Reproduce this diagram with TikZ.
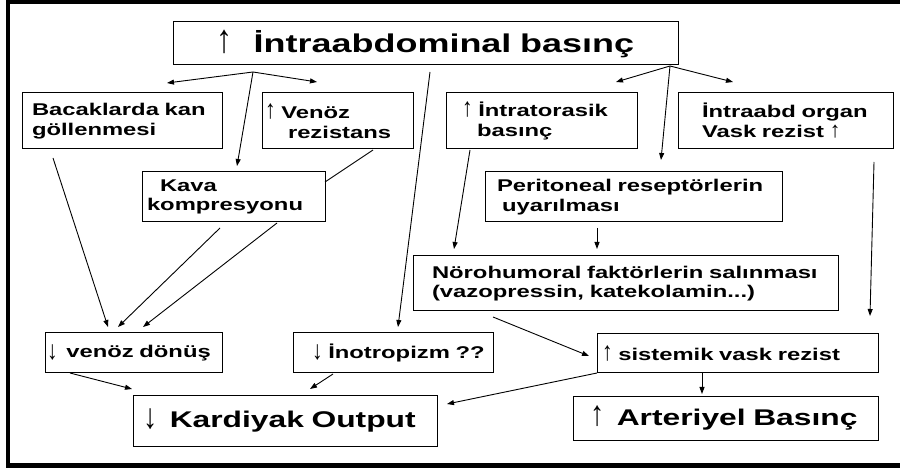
\documentclass[tikz,border=0pt]{standalone}
\usepackage{fontspec}
\usepackage{graphicx}
\setmainfont{Liberation Sans}[FakeStretch=1.4]
\newfontfamily\arrfont{Liberation Sans}
\usetikzlibrary{arrows.meta}
\newcommand\upar{{\arrfont\mdseries\scalebox{1.25}[1.55]{↑}}}
\newcommand\uparsm{{\arrfont\mdseries\scalebox{1.25}[1.3]{↑}}}
\newcommand\dnar{{\arrfont\mdseries\raisebox{-0.08em}{\scalebox{1.25}[1.55]{↓}}}}
\newcommand\tl[2]{\hspace*{#1pt}\mbox{#2}}
\begin{document}
\begin{tikzpicture}[x=1pt,y=-1pt,
  box/.style={draw=black, line width=1pt, rectangle, anchor=north west, inner sep=0pt, outer sep=0pt, align=left, font=\bfseries\fontsize{17}{19.5}\selectfont},
  big/.style={font=\bfseries\fontsize{22.7}{27}\selectfont},
  con/.style={line width=0.9pt, -{Triangle[length=7pt,width=5pt]}},
  link/.style={line width=0.9pt}]
\useasboundingbox (0,0) rectangle (900,470);
\draw[line width=4.5pt] (905,1.3) -- (8,1.3) -- (8,465.5) -- (905,465.5);

\node[box, minimum width=505pt, minimum height=43pt, text width=505pt, align=center, font=\bfseries\fontsize{25.7}{30}\selectfont] (top) at (173,22) {\upar\hspace{12pt} İntraabdominal basınç};
\node[box, minimum width=200pt, minimum height=56pt, text width=200pt] (bac) at (22,93) {\tl{10}{Bacaklarda kan}\\\tl{10}{göllenmesi}};
\node[box, minimum width=151pt, minimum height=56pt, text width=151pt] (ven) at (262,93) {\tl{3}{\upar\ Venöz}\\\tl{26}{rezistans}};
\node[box, minimum width=191pt, minimum height=56pt, text width=191pt] (ito) at (446,93) {\tl{16}{\upar\ İntratorasik}\\\tl{31}{basınç}};
\node[box, minimum width=215pt, minimum height=56pt, text width=215pt, font=\bfseries\fontsize{17}{20}\selectfont] (org) at (678,93) {\tl{24}{İntraabd organ}\\\tl{24}{Vask rezist \uparsm}};
\node[box, minimum width=183pt, minimum height=50pt, text width=183pt] (kava) at (142,172) {\tl{18}{Kava}\\\tl{5}{kompresyonu}};
\node[box, minimum width=297pt, minimum height=50pt, text width=297pt] (per) at (485,172) {\tl{12}{Peritoneal reseptörlerin}\\\tl{17}{uyarılması}};
\node[box, minimum width=425pt, minimum height=55pt, text width=425pt] (nor) at (413,256) {\tl{19}{Nörohumoral faktörlerin salınması}\\\tl{19}{(vazopressin, katekolamin...)}};
\node[box, minimum width=177pt, minimum height=40pt, text width=177pt] (vd) at (45,333) {\tl{2}{\dnar\hspace{3pt} venöz dönüş}};
\node[box, minimum width=200pt, minimum height=40pt, text width=200pt] (ino) at (293,333) {\tl{19}{\dnar\ İnotropizm ??}};
\node[box, minimum width=281pt, minimum height=39pt, text width=281pt] (sis) at (597,334) {\tl{5}{\upar\ sistemik vask rezist}};
\node[box, big, minimum width=304pt, minimum height=51pt, text width=304pt] (kar) at (133,395) {\tl{10}{\dnar\hspace{5pt} Kardiyak Output}};
\node[box, big, minimum width=305pt, minimum height=44pt, text width=305pt] (art) at (573,396) {\tl{17}{\upar\hspace{5pt} Arteriyel Basınç}};

\coordinate (tA) at (253,72);
\coordinate (a1) at (167,83);
\coordinate (a2) at (317,82);
\coordinate (a3) at (237,166);
\coordinate (tB) at (670,66);
\coordinate (b1) at (616,82);
\coordinate (b2) at (733,82);
\coordinate (b3) at (661,160);
\coordinate (tC) at (430,72);
\coordinate (c1) at (398,327);
\coordinate (bacS) at (53,158);
\coordinate (vd1) at (108,327);
\coordinate (kavaS1) at (220,228);
\coordinate (vd2) at (118,327);
\coordinate (kavaS2) at (277,223);
\coordinate (vd3) at (143,327);
\coordinate (venS) at (373,150);
\coordinate (kavaE) at (325,182);
\coordinate (itoS) at (470,150);
\coordinate (nor1) at (454,249);
\coordinate (perS) at (597,228);
\coordinate (nor2) at (597,249);
\coordinate (orgS) at (874,162);
\coordinate (sis1) at (870,316);
\coordinate (norS) at (493,317);
\coordinate (sis2) at (589,356);
\coordinate (vdS) at (70,373);
\coordinate (kar1) at (132,389);
\coordinate (inoS) at (333,374);
\coordinate (kar2) at (310,389);
\coordinate (sisS) at (597,373);
\coordinate (kar3) at (447,404);
\coordinate (sisS2) at (702,373);
\coordinate (art1) at (702,394);

\draw[con] (tA) -- (a1);
\draw[con] (tA) -- (a2);
\draw[con] (tA) -- (a3);
\draw[con] (tB) -- (b1);
\draw[con] (tB) -- (b2);
\draw[con] (tB) -- (b3);
\draw[con] (tC) -- (c1);
\draw[con] (bacS) -- (vd1);
\draw[con] (kavaS1) -- (vd2);
\draw[con] (kavaS2) -- (vd3);
\draw[link] (venS) -- (kavaE);
\draw[con] (itoS) -- (nor1);
\draw[con] (perS) -- (nor2);
\draw[con] (orgS) -- (sis1);
\draw[con] (norS) -- (sis2);
\draw[con] (vdS) -- (kar1);
\draw[con] (inoS) -- (kar2);
\draw[con] (sisS) -- (kar3);
\draw[con] (sisS2) -- (art1);
\end{tikzpicture}
\end{document}
